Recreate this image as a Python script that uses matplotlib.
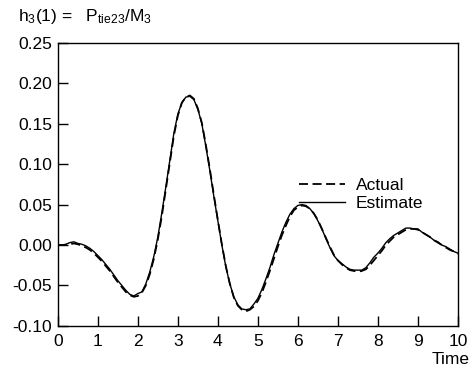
"""
    h3(1) response: actual vs estimate
"""

import matplotlib
matplotlib.use("Agg")
import matplotlib.pyplot as plt
import numpy as np

plt.rcParams["font.family"] = ["Liberation Sans", "DejaVu Sans"]
plt.rcParams["mathtext.fontset"] = "custom"
plt.rcParams["mathtext.rm"] = "Liberation Sans"
plt.rcParams["mathtext.it"] = "Liberation Sans:italic"

# time samples, step 0.1 s
time = np.arange(0, 101) / 10.0

estimate = [
    0.000, 0.000, 0.001, 0.003, 0.004, 0.002, 0.001, -0.001, -0.004, -0.008,
    -0.013, -0.018, -0.024, -0.030, -0.037, -0.044, -0.050, -0.056, -0.061, -0.063,
    -0.060, -0.058, -0.048, -0.033, -0.014, 0.010, 0.040, 0.072, 0.105, 0.138,
    0.162, 0.176, 0.183, 0.184, 0.180, 0.168, 0.150, 0.122, 0.092, 0.060,
    0.030, 0.000, -0.027, -0.048, -0.064, -0.074, -0.079, -0.080, -0.079, -0.073,
    -0.066, -0.055, -0.042, -0.028, -0.012, 0.002, 0.016, 0.028, 0.038, 0.045,
    0.049, 0.050, 0.049, 0.045, 0.039, 0.030, 0.020, 0.008, -0.003, -0.013,
    -0.019, -0.023, -0.027, -0.030, -0.031, -0.031, -0.031, -0.028, -0.022, -0.015,
    -0.010, -0.004, 0.003, 0.008, 0.012, 0.015, 0.018, 0.021, 0.021, 0.020,
    0.020, 0.016, 0.013, 0.010, 0.006, 0.004, 0.000, -0.002, -0.005, -0.008,
    -0.010,
]

actual = [
    0.000, 0.000, 0.000, 0.001, 0.002, 0.001, -0.001, -0.003, -0.006, -0.010,
    -0.015, -0.020, -0.026, -0.032, -0.039, -0.046, -0.052, -0.058, -0.062, -0.064,
    -0.063, -0.059, -0.050, -0.036, -0.017, 0.007, 0.036, 0.069, 0.102, 0.135,
    0.160, 0.176, 0.183, 0.185, 0.181, 0.169, 0.151, 0.124, 0.094, 0.062,
    0.031, 0.001, -0.026, -0.048, -0.065, -0.075, -0.080, -0.082, -0.080, -0.076,
    -0.069, -0.059, -0.046, -0.032, -0.017, -0.002, 0.012, 0.024, 0.035, 0.043,
    0.047, 0.049, 0.048, 0.045, 0.039, 0.031, 0.020, 0.009, -0.002, -0.012,
    -0.019, -0.024, -0.028, -0.031, -0.032, -0.033, -0.032, -0.030, -0.025, -0.019,
    -0.013, -0.007, 0.000, 0.005, 0.010, 0.013, 0.016, 0.019, 0.020, 0.020,
    0.019, 0.016, 0.013, 0.010, 0.006, 0.003, 0.000, -0.003, -0.006, -0.008,
    -0.011,
]

xticks = list(range(0, 11))
yticks = [-0.10, -0.05, 0.00, 0.05, 0.10, 0.15, 0.20, 0.25]

fig = plt.figure(figsize=(4.74, 3.67), dpi=100)
ax = fig.add_axes([0.122, 0.112, 0.844, 0.771])

ax.plot(time, actual, color="black", lw=1.3, ls=(0, (5, 2.5)), label="Actual")
ax.plot(time, estimate, color="black", lw=1.0, label="Estimate")

ax.set_xlim(0, 10)
ax.set_ylim(-0.10, 0.25)
ax.set_xticks(xticks)
ax.set_yticks(yticks)
ax.set_yticklabels([f"{v:.2f}" for v in yticks])
ax.tick_params(direction="in", length=7, width=1, labelsize=12.5,
               top=False, right=False)
ax.tick_params(axis="x", pad=6)
ax.tick_params(axis="y", pad=4)
for s in ax.spines.values():
    s.set_linewidth(1.0)

ax.legend(loc="upper left", bbox_to_anchor=(0.58, 0.555), frameon=False,
          fontsize=12.5, handlelength=2.7, labelspacing=0.2, borderpad=0,
          handletextpad=0.6)

fig.text(18 / 474, 1 - 17 / 367,
         r"h$_3$(1) =   P$_{\mathrm{tie23}}$/M$_3$",
         fontsize=12.5, ha="left", va="center")
fig.text(470 / 474, 1 - 359 / 367, "Time", fontsize=12.5,
         ha="right", va="center")

fig.savefig("out.png", dpi=100)
